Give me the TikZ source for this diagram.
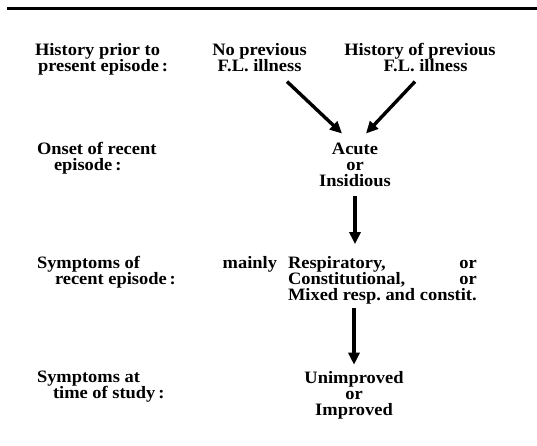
\documentclass[tikz,border=0pt]{standalone}
\usepackage{fontspec}
\setmainfont{Liberation Serif}[FakeStretch=1.06,UprightFont=*-Bold]
\usetikzlibrary{arrows.meta}
\newcommand{\tl}[1]{\vtop{\baselineskip=16pt\lineskiplimit=-\maxdimen\def\\{\cr}\halign{##\hfil\cr#1\crcr}}}
\newcommand{\tc}[1]{\vtop{\baselineskip=16pt\lineskiplimit=-\maxdimen\def\\{\cr}\halign{\hfil##\hfil\cr#1\crcr}}}
\begin{document}
\frenchspacing
\begin{tikzpicture}[x=1pt,y=-1pt,
  txt/.style={inner sep=0pt,outer sep=0pt,font=\fontsize{17.4pt}{16pt}\selectfont\frenchspacing},
  lbl/.style={txt,anchor=base west},
  ctr/.style={txt,anchor=base},
  arr/.style={line width=3.4pt,-{Triangle[length=12pt,width=11pt]}},
  rule/.style={line width=3pt}]
\useasboundingbox (0,0) rectangle (537,446);
\draw[rule] (7,8.5) -- (537,8.5);
% left labels
\node[lbl] (l1) at (35,56) {\tl{History prior to\\\hspace*{3pt}present episode\,:}};
\node[lbl] (l2) at (37,155) {\tl{Onset of recent\\\hspace*{17pt}episode\,:}};
\node[lbl] (l3) at (37,268) {\tl{Symptoms of\\\hspace*{18pt}recent episode\,:}};
\node[lbl] (l4) at (37,382) {\tl{Symptoms at\\\hspace*{16pt}time of study\,:}};
% flow
\node[ctr] (np) at (259.5,56) {\tc{No previous\\F.L. illness}};
\node[ctr] (hp) at (420,56) {\tc{History of previous\\\hspace*{11pt}F.L. illness}};
\node[ctr] (ac) at (355,155) {\tc{Acute\\or\\Insidious}};
\node[txt,anchor=base east] (mn) at (277,268) {mainly};
\node[lbl] (sy) at (288,268) {\tl{Respiratory,\\Constitutional,\\Mixed resp. and constit.}};
\node[txt,anchor=base east] (or1) at (sy.east |- mn.base) {or};
\node[txt,anchor=base east] (or2) at ([yshift=-16pt]or1.base east) {or};
\node[ctr] (un) at (354,383.3) {\tc{Unimproved\\or\\Improved}};
% arrows
\draw[arr] ([xshift=27.5pt,yshift=-9.3pt]np.south) -- ([xshift=-13pt,yshift=10pt]ac.north);
\draw[arr] ([xshift=-5pt,yshift=-9.3pt]hp.south) -- ([xshift=11pt,yshift=10pt]ac.north);
\draw[arr] ([yshift=-9pt]ac.south) -- ([yshift=11.8pt]ac.south |- sy.north);
\draw[arr] ([yshift=-4pt]sy.south -| un.north) -- ([yshift=6.5pt]un.north);
\end{tikzpicture}
\end{document}
